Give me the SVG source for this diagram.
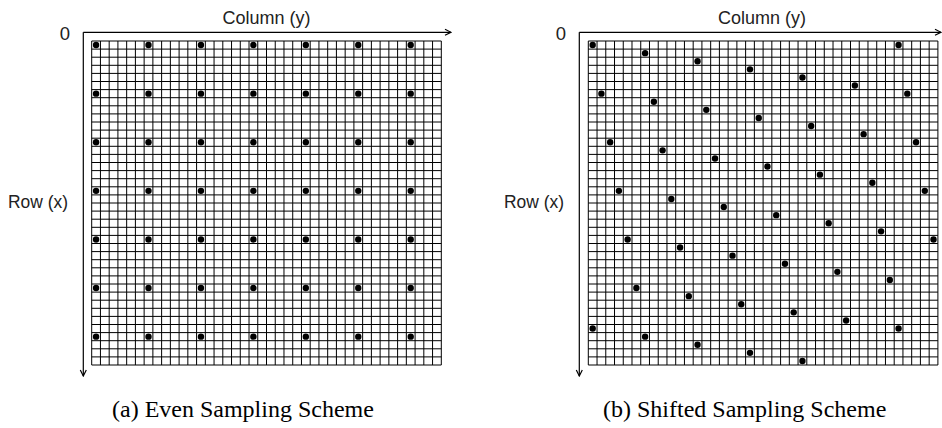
<svg xmlns="http://www.w3.org/2000/svg" xmlns:xlink="http://www.w3.org/1999/xlink" width="942" height="428" viewBox="0 0 942 428">
<style>
.grid{fill:none;stroke:#000;stroke-width:1}
.axis{fill:none;stroke:#000;stroke-width:1.2}
.dot{fill:#000}
.lbl{font-family:"Liberation Sans",Arial,sans-serif;font-size:18.5px;fill:#222}
.cap{font-family:"Liberation Serif","Times New Roman",serif;font-size:24px;fill:#000}
</style>
<defs>
<marker id="arr" viewBox="0 0 8 8" refX="7" refY="4" markerWidth="8" markerHeight="8" markerUnits="userSpaceOnUse" orient="auto">
<path d="M1 1L7 4L1 7" fill="none" stroke="#000" stroke-width="1.2"/>
</marker>
<path id="grid" class="grid" d="M0 0V324M8.74 0V324M17.48 0V324M26.22 0V324M34.96 0V324M43.7 0V324M52.44 0V324M61.18 0V324M69.92 0V324M78.66 0V324M87.4 0V324M96.14 0V324M104.88 0V324M113.62 0V324M122.36 0V324M131.1 0V324M139.84 0V324M148.58 0V324M157.32 0V324M166.06 0V324M174.8 0V324M183.54 0V324M192.28 0V324M201.02 0V324M209.76 0V324M218.5 0V324M227.24 0V324M235.98 0V324M244.72 0V324M253.46 0V324M262.2 0V324M270.94 0V324M279.68 0V324M288.42 0V324M297.16 0V324M305.9 0V324M314.64 0V324M323.38 0V324M332.12 0V324M340.86 0V324M349.6 0V324M0 0H349.6M0 8.1H349.6M0 16.2H349.6M0 24.3H349.6M0 32.4H349.6M0 40.5H349.6M0 48.6H349.6M0 56.7H349.6M0 64.8H349.6M0 72.9H349.6M0 81H349.6M0 89.1H349.6M0 97.2H349.6M0 105.3H349.6M0 113.4H349.6M0 121.5H349.6M0 129.6H349.6M0 137.7H349.6M0 145.8H349.6M0 153.9H349.6M0 162H349.6M0 170.1H349.6M0 178.2H349.6M0 186.3H349.6M0 194.4H349.6M0 202.5H349.6M0 210.6H349.6M0 218.7H349.6M0 226.8H349.6M0 234.9H349.6M0 243H349.6M0 251.1H349.6M0 259.2H349.6M0 267.3H349.6M0 275.4H349.6M0 283.5H349.6M0 291.6H349.6M0 299.7H349.6M0 307.8H349.6M0 315.9H349.6M0 324H349.6"/>
</defs>

<g id="panel-a">
<use xlink:href="#grid" href="#grid" transform="translate(91.7,41)"/>
<g id="axes-a">
<path class="axis" d="M83.3 32.3H451" marker-end="url(#arr)"/>
<path class="axis" d="M83.3 32.3V376" marker-end="url(#arr)"/>
</g>
<g id="dots-a" transform="translate(91.7,41)">
<circle class="dot" cx="4.37" cy="4.05" r="3.2"/><circle class="dot" cx="56.81" cy="4.05" r="3.2"/><circle class="dot" cx="109.25" cy="4.05" r="3.2"/><circle class="dot" cx="161.69" cy="4.05" r="3.2"/><circle class="dot" cx="214.13" cy="4.05" r="3.2"/><circle class="dot" cx="266.57" cy="4.05" r="3.2"/><circle class="dot" cx="319.01" cy="4.05" r="3.2"/>
<circle class="dot" cx="4.37" cy="52.65" r="3.2"/><circle class="dot" cx="56.81" cy="52.65" r="3.2"/><circle class="dot" cx="109.25" cy="52.65" r="3.2"/><circle class="dot" cx="161.69" cy="52.65" r="3.2"/><circle class="dot" cx="214.13" cy="52.65" r="3.2"/><circle class="dot" cx="266.57" cy="52.65" r="3.2"/><circle class="dot" cx="319.01" cy="52.65" r="3.2"/>
<circle class="dot" cx="4.37" cy="101.25" r="3.2"/><circle class="dot" cx="56.81" cy="101.25" r="3.2"/><circle class="dot" cx="109.25" cy="101.25" r="3.2"/><circle class="dot" cx="161.69" cy="101.25" r="3.2"/><circle class="dot" cx="214.13" cy="101.25" r="3.2"/><circle class="dot" cx="266.57" cy="101.25" r="3.2"/><circle class="dot" cx="319.01" cy="101.25" r="3.2"/>
<circle class="dot" cx="4.37" cy="149.85" r="3.2"/><circle class="dot" cx="56.81" cy="149.85" r="3.2"/><circle class="dot" cx="109.25" cy="149.85" r="3.2"/><circle class="dot" cx="161.69" cy="149.85" r="3.2"/><circle class="dot" cx="214.13" cy="149.85" r="3.2"/><circle class="dot" cx="266.57" cy="149.85" r="3.2"/><circle class="dot" cx="319.01" cy="149.85" r="3.2"/>
<circle class="dot" cx="4.37" cy="198.45" r="3.2"/><circle class="dot" cx="56.81" cy="198.45" r="3.2"/><circle class="dot" cx="109.25" cy="198.45" r="3.2"/><circle class="dot" cx="161.69" cy="198.45" r="3.2"/><circle class="dot" cx="214.13" cy="198.45" r="3.2"/><circle class="dot" cx="266.57" cy="198.45" r="3.2"/><circle class="dot" cx="319.01" cy="198.45" r="3.2"/>
<circle class="dot" cx="4.37" cy="247.05" r="3.2"/><circle class="dot" cx="56.81" cy="247.05" r="3.2"/><circle class="dot" cx="109.25" cy="247.05" r="3.2"/><circle class="dot" cx="161.69" cy="247.05" r="3.2"/><circle class="dot" cx="214.13" cy="247.05" r="3.2"/><circle class="dot" cx="266.57" cy="247.05" r="3.2"/><circle class="dot" cx="319.01" cy="247.05" r="3.2"/>
<circle class="dot" cx="4.37" cy="295.65" r="3.2"/><circle class="dot" cx="56.81" cy="295.65" r="3.2"/><circle class="dot" cx="109.25" cy="295.65" r="3.2"/><circle class="dot" cx="161.69" cy="295.65" r="3.2"/><circle class="dot" cx="214.13" cy="295.65" r="3.2"/><circle class="dot" cx="266.57" cy="295.65" r="3.2"/><circle class="dot" cx="319.01" cy="295.65" r="3.2"/>
</g>
<text class="lbl" x="65" y="40" text-anchor="middle">0</text>
<text class="lbl" x="266.5" y="24" text-anchor="middle" textLength="88" lengthAdjust="spacingAndGlyphs">Column (y)</text>
<text class="lbl" x="38" y="208" text-anchor="middle" textLength="60" lengthAdjust="spacingAndGlyphs">Row (x)</text>
<text class="cap" x="112" y="417">(a) Even Sampling Scheme</text>
</g>

<g id="panel-b">
<use xlink:href="#grid" href="#grid" transform="translate(588.3,41)"/>
<g id="axes-b">
<path class="axis" d="M579.3 32.3H941" marker-end="url(#arr)"/>
<path class="axis" d="M579.3 32.3V376" marker-end="url(#arr)"/>
</g>
<g id="dots-b" transform="translate(588.3,41)">
<circle class="dot" cx="4.37" cy="4.05" r="3.2"/><circle class="dot" cx="310.27" cy="4.05" r="3.2"/>
<circle class="dot" cx="56.81" cy="12.15" r="3.2"/>
<circle class="dot" cx="109.25" cy="20.25" r="3.2"/>
<circle class="dot" cx="161.69" cy="28.35" r="3.2"/>
<circle class="dot" cx="214.13" cy="36.45" r="3.2"/>
<circle class="dot" cx="266.57" cy="44.55" r="3.2"/>
<circle class="dot" cx="13.11" cy="52.65" r="3.2"/><circle class="dot" cx="319.01" cy="52.65" r="3.2"/>
<circle class="dot" cx="65.55" cy="60.75" r="3.2"/>
<circle class="dot" cx="117.99" cy="68.85" r="3.2"/>
<circle class="dot" cx="170.43" cy="76.95" r="3.2"/>
<circle class="dot" cx="222.87" cy="85.05" r="3.2"/>
<circle class="dot" cx="275.31" cy="93.15" r="3.2"/>
<circle class="dot" cx="21.85" cy="101.25" r="3.2"/><circle class="dot" cx="327.75" cy="101.25" r="3.2"/>
<circle class="dot" cx="74.29" cy="109.35" r="3.2"/>
<circle class="dot" cx="126.73" cy="117.45" r="3.2"/>
<circle class="dot" cx="179.17" cy="125.55" r="3.2"/>
<circle class="dot" cx="231.61" cy="133.65" r="3.2"/>
<circle class="dot" cx="284.05" cy="141.75" r="3.2"/>
<circle class="dot" cx="30.59" cy="149.85" r="3.2"/><circle class="dot" cx="336.49" cy="149.85" r="3.2"/>
<circle class="dot" cx="83.03" cy="157.95" r="3.2"/>
<circle class="dot" cx="135.47" cy="166.05" r="3.2"/>
<circle class="dot" cx="187.91" cy="174.15" r="3.2"/>
<circle class="dot" cx="240.35" cy="182.25" r="3.2"/>
<circle class="dot" cx="292.79" cy="190.35" r="3.2"/>
<circle class="dot" cx="39.33" cy="198.45" r="3.2"/><circle class="dot" cx="345.23" cy="198.45" r="3.2"/>
<circle class="dot" cx="91.77" cy="206.55" r="3.2"/>
<circle class="dot" cx="144.21" cy="214.65" r="3.2"/>
<circle class="dot" cx="196.65" cy="222.75" r="3.2"/>
<circle class="dot" cx="249.09" cy="230.85" r="3.2"/>
<circle class="dot" cx="301.53" cy="238.95" r="3.2"/>
<circle class="dot" cx="48.07" cy="247.05" r="3.2"/>
<circle class="dot" cx="100.51" cy="255.15" r="3.2"/>
<circle class="dot" cx="152.95" cy="263.25" r="3.2"/>
<circle class="dot" cx="205.39" cy="271.35" r="3.2"/>
<circle class="dot" cx="257.83" cy="279.45" r="3.2"/>
<circle class="dot" cx="4.37" cy="287.55" r="3.2"/><circle class="dot" cx="310.27" cy="287.55" r="3.2"/>
<circle class="dot" cx="56.81" cy="295.65" r="3.2"/>
<circle class="dot" cx="109.25" cy="303.75" r="3.2"/>
<circle class="dot" cx="161.69" cy="311.85" r="3.2"/>
<circle class="dot" cx="214.13" cy="319.95" r="3.2"/>
</g>
<text class="lbl" x="561" y="40" text-anchor="middle">0</text>
<text class="lbl" x="762" y="24" text-anchor="middle" textLength="88" lengthAdjust="spacingAndGlyphs">Column (y)</text>
<text class="lbl" x="534" y="208" text-anchor="middle" textLength="60" lengthAdjust="spacingAndGlyphs">Row (x)</text>
<text class="cap" x="603" y="417">(b) Shifted Sampling Scheme</text>
</g>
</svg>
